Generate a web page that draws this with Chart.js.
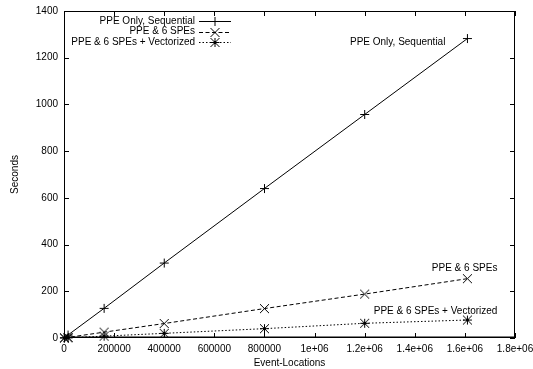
<!DOCTYPE html>
<html>
<head>
<meta charset="utf-8">
<script src="https://cdn.jsdelivr.net/npm/chart.js@4"></script>
<style>
  html, body { margin: 0; padding: 0; background: #fff; }
  canvas { display: block; }
</style>
</head>
<body>
<canvas id="c" width="533" height="369"></canvas>
<script>
const seriesNames = ['PPE Only, Sequential', 'PPE & 6 SPEs', 'PPE & 6 SPEs + Vectorized'];
const eventLocations = [1600, 16000, 160000, 400000, 800000, 1200000, 1610000];
const seqSeconds = [1.3, 12.8, 127, 321, 640, 957, 1282];
const spe6Seconds = [0.3, 2.6, 25, 62, 126, 188, 254];
const vecSeconds = [0.1, 0.8, 8, 20, 40, 63, 77];
const xTickValues = [0, 200000, 400000, 600000, 800000, 1000000, 1200000, 1400000, 1600000, 1800000];
const xTickLabels = ['0', '200000', '400000', '600000', '800000', '1e+06', '1.2e+06', '1.4e+06', '1.6e+06', '1.8e+06'];
const yTickValues = [0, 200, 400, 600, 800, 1000, 1200, 1400];
const xTitle = 'Event-Locations';
const yTitle = 'Seconds';

const FONT = '"Liberation Sans", Arial, Helvetica, sans-serif';
const toPts = (ys) => eventLocations.map((x, i) => ({ x: x, y: ys[i] }));

// gnuplot-like marker glyphs: plus, cross, star
function makeMarker(kind) {
  const s = 11, c = s / 2, h = 4.5;
  const cv = document.createElement('canvas');
  cv.width = s; cv.height = s;
  const g = cv.getContext('2d');
  g.strokeStyle = '#000';
  g.lineWidth = 1;
  g.beginPath();
  if (kind === 'plus' || kind === 'star') {
    g.moveTo(c - h, c); g.lineTo(c + h, c);
    g.moveTo(c, c - h); g.lineTo(c, c + h);
  }
  if (kind === 'cross' || kind === 'star') {
    g.moveTo(c - h, c - h); g.lineTo(c + h, c + h);
    g.moveTo(c - h, c + h); g.lineTo(c + h, c - h);
  }
  g.stroke();
  return cv;
}

const styles = [
  { dash: [], point: makeMarker('plus') },
  { dash: [4, 2.5], point: makeMarker('cross') },
  { dash: [1.5, 2], point: makeMarker('star') }
];
const seriesValues = [seqSeconds, spe6Seconds, vecSeconds];

const datasets = seriesValues.map((vals, i) => ({
  label: seriesNames[i],
  data: toPts(vals),
  showLine: true,
  borderColor: '#000',
  borderWidth: 1,
  borderDash: styles[i].dash,
  pointStyle: styles[i].point,
  pointRadius: 5,
  clip: 12,
  tension: 0
}));

const gnuplotDecor = {
  id: 'gnuplotDecor',
  afterDatasetsDraw(chart) {
    const ctx = chart.ctx;
    const a = chart.chartArea;
    const xs = chart.scales.x, ys = chart.scales.y;
    ctx.save();
    ctx.strokeStyle = '#000';
    ctx.lineWidth = 1;
    ctx.setLineDash([]);
    // border
    ctx.strokeRect(a.left + 0.5, a.top + 0.5, a.right - a.left - 1, a.bottom - a.top - 1);
    ctx.beginPath();
    ctx.moveTo(a.left, a.bottom - 1); ctx.lineTo(a.right, a.bottom - 1);
    ctx.stroke();
    // inward ticks
    const tl = 5;
    ctx.beginPath();
    yTickValues.forEach(v => {
      const y = Math.round(ys.getPixelForValue(v)) + 0.5;
      ctx.moveTo(a.left, y); ctx.lineTo(a.left + tl, y);
      ctx.moveTo(a.right, y); ctx.lineTo(a.right - tl, y);
    });
    xTickValues.forEach(v => {
      const x = Math.round(xs.getPixelForValue(v)) + 0.5;
      ctx.moveTo(x, a.bottom); ctx.lineTo(x, a.bottom - tl);
      ctx.moveTo(x, a.top); ctx.lineTo(x, a.top + tl);
    });
    ctx.stroke();

    ctx.font = '10px ' + FONT;
    ctx.fillStyle = '#000';
    ctx.textBaseline = 'middle';
    // legend (top-left, gnuplot style)
    const legendRight = a.left + 131;
    const legendTop = a.top + 10;
    const rowH = 10.5;
    chart.data.datasets.forEach((ds, i) => {
      const y = legendTop + i * rowH;
      ctx.textAlign = 'right';
      ctx.fillText(ds.label, legendRight, y);
      ctx.setLineDash(ds.borderDash);
      ctx.beginPath();
      ctx.moveTo(legendRight + 4, Math.round(y) + 0.5);
      ctx.lineTo(legendRight + 36, Math.round(y) + 0.5);
      ctx.stroke();
      ctx.setLineDash([]);
      const img = ds.pointStyle;
      ctx.drawImage(img, legendRight + 20 - img.width / 2, Math.round(y) + 0.5 - img.height / 2);
    });
    // labels near series end points
    const offs = [ { dx: -22, dy: 4 }, { dx: 30, dy: -10.5 }, { dx: 30, dy: -9 } ];
    chart.data.datasets.forEach((ds, i) => {
      const meta = chart.getDatasetMeta(i);
      const last = meta.data[meta.data.length - 1];
      ctx.textAlign = 'right';
      ctx.fillText(ds.label, last.x + offs[i].dx, last.y + offs[i].dy);
    });
    ctx.restore();
  }
};

new Chart(document.getElementById('c'), {
  type: 'scatter',
  data: { datasets: datasets },
  plugins: [gnuplotDecor],
  options: {
    responsive: false,
    animation: false,
    devicePixelRatio: 1,
    layout: { padding: { left: 0, top: 11, right: 18, bottom: 0 } },
    plugins: { legend: { display: false }, tooltip: { enabled: false } },
    scales: {
      x: {
        type: 'linear',
        min: 0, max: 1800000,
        afterBuildTicks: (s) => { s.ticks = xTickValues.map(v => ({ value: v })); },
        afterFit: (s) => { s.height = 31; s.paddingLeft = 0; s.paddingRight = 0; },
        grid: { display: false, drawTicks: false },
        border: { display: false },
        ticks: {
          autoSkip: false, maxRotation: 0, padding: 5,
          color: '#000', font: { family: FONT, size: 10 },
          callback: (v, i) => xTickLabels[i]
        },
        title: { display: true, text: xTitle, color: '#000', font: { family: FONT, size: 10 }, padding: { top: 0, bottom: 0 } }
      },
      y: {
        type: 'linear',
        min: 0, max: 1400,
        afterBuildTicks: (s) => { s.ticks = yTickValues.map(v => ({ value: v })); },
        afterFit: (s) => { s.width = 64; s.paddingTop = 0; s.paddingBottom = 0; },
        grid: { display: false, drawTicks: false },
        border: { display: false },
        ticks: {
          autoSkip: false, padding: 6,
          color: '#000', font: { family: FONT, size: 10 },
          callback: (v) => String(v)
        },
        title: { display: true, text: yTitle, color: '#000', font: { family: FONT, size: 10 }, padding: { top: 9, bottom: 0 } }
      }
    }
  }
});
</script>
</body>
</html>
